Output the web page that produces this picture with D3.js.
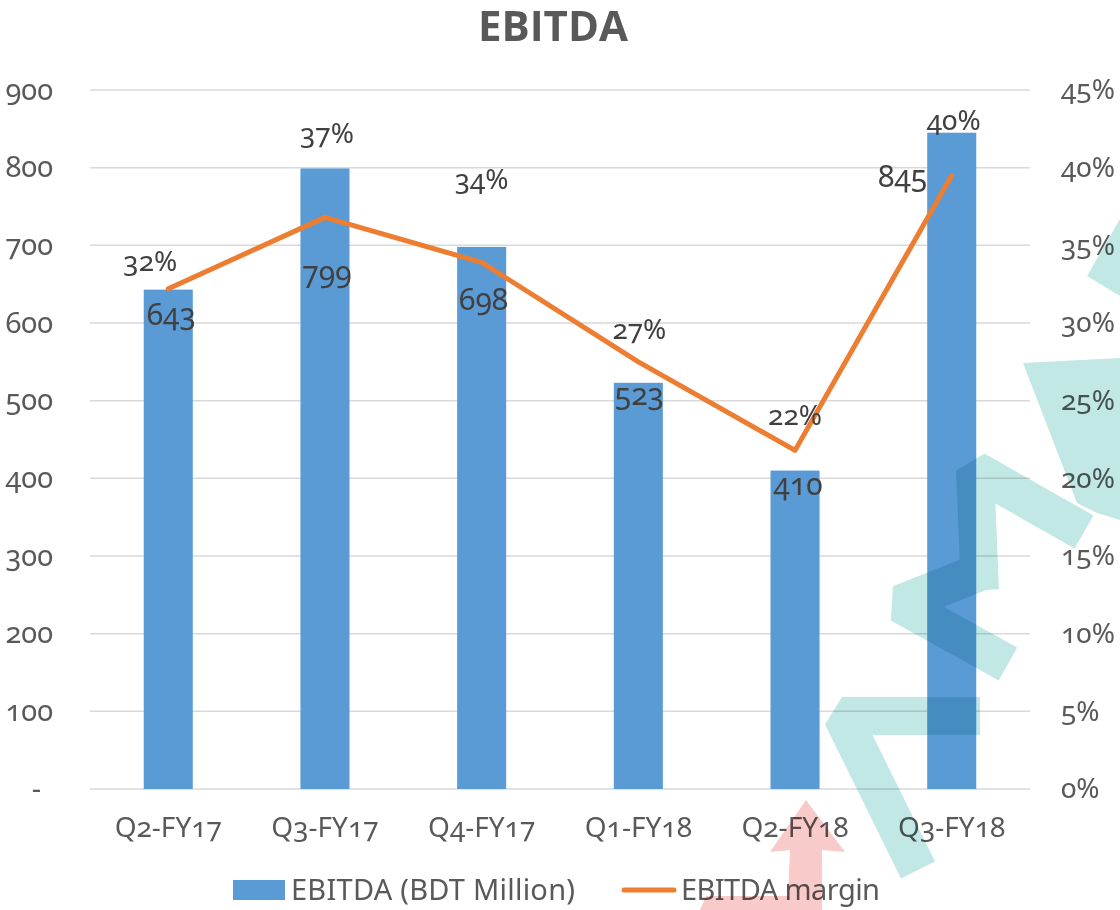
<!DOCTYPE html>
<html>
<head>
<meta charset="utf-8">
<script src="https://cdn.jsdelivr.net/npm/d3@7"></script>
<style>
  body { margin: 0; background: #fff; }
  text { font-family: "Noto Sans", sans-serif; font-variant-numeric: oldstyle-nums; }
</style>
</head>
<body>
<svg id="chart" width="1120" height="910"></svg>
<script>
// data
const quarters = ["Q2-FY17", "Q3-FY17", "Q4-FY17", "Q1-FY18", "Q2-FY18", "Q3-FY18"];
const ebitda = [643, 799, 698, 523, 410, 845];
const ebitdaMargin = [0.322, 0.368, 0.339, 0.275, 0.218, 0.395];
const marginLabels = ["32%", "37%", "34%", "27%", "22%", "40%"];
const leftTicks = [0, 100, 200, 300, 400, 500, 600, 700, 800, 900];
const rightTicks = [0, 0.05, 0.10, 0.15, 0.20, 0.25, 0.30, 0.35, 0.40, 0.45];
const seriesNames = ["EBITDA (BDT Million)", "EBITDA margin"];

// hand-placed label nudges, in px (layout only)
const barLabelDx = [3, 2, 2, 1, 3, -47];
const barLabelDy = [25, 104, 53, 12, 14, 44];
const pctLabelDx = [-18, 2, 0, 1, 0, 2];
const pctLabelDy = [-28, -84, -83, -33, -35, -55];

const blue = "#5B9BD5", orange = "#ED7D31";
const plot = { left: 90, right: 1030, top: 90, bottom: 789 };

const svg = d3.select("#chart");

const x = d3.scaleBand().domain(quarters).range([plot.left, plot.right]).paddingInner(0.687).paddingOuter(0.343);
const xc = d => x(d) + x.bandwidth() / 2;
const y = d3.scaleLinear().domain([0, 900]).range([plot.bottom, plot.top]);
const y2 = d3.scaleLinear().domain([0, 0.45]).range([plot.bottom, plot.top]);

// title
svg.append("text")
  .attr("x", 553).attr("y", 41)
  .attr("text-anchor", "middle")
  .style("font-family", "'Open Sans', sans-serif")
  .style("font-weight", "bold")
  .style("font-size", "42px")
  .attr("fill", "#595959")
  .text("EBITDA");

// gridlines
svg.append("g").selectAll("line")
  .data(leftTicks)
  .join("line")
  .attr("x1", plot.left).attr("x2", plot.right)
  .attr("y1", d => y(d)).attr("y2", d => y(d))
  .attr("stroke", "#D9D9D9").attr("stroke-width", 1.5);

// left axis
const left = svg.append("g")
  .attr("transform", "translate(" + 53 + ",0)")
  .call(d3.axisLeft(y).tickValues(leftTicks).tickSize(0).tickPadding(0)
    .tickFormat(d => d === 0 ? "-" : d));
left.select(".domain").remove();
left.selectAll("text")
  .attr("fill", "#595959").style("font-size", "29px")
  .attr("dx", d => d === 0 ? -12 : 0);

// right axis
const right = svg.append("g")
  .attr("transform", "translate(" + 1061 + ",0)")
  .call(d3.axisRight(y2).tickValues(rightTicks).tickSize(0).tickPadding(0)
    .tickFormat(d3.format(".0%")));
right.select(".domain").remove();
right.selectAll("text").attr("fill", "#595959").style("font-size", "28px");

// x axis
const bottom = svg.append("g")
  .attr("transform", "translate(0," + plot.bottom + ")")
  .call(d3.axisBottom(x).tickSize(0).tickPadding(28));
bottom.select(".domain").remove();
bottom.selectAll("text").attr("fill", "#595959").style("font-size", "28px");

// bars
svg.append("g").selectAll("rect")
  .data(quarters)
  .join("rect")
  .attr("x", d => x(d))
  .attr("y", (d, i) => y(ebitda[i]))
  .attr("width", x.bandwidth())
  .attr("height", (d, i) => y(0) - y(ebitda[i]))
  .attr("fill", blue);

// margin line
const line = d3.line()
  .x((d, i) => xc(quarters[i]))
  .y(d => y2(d));
svg.append("path")
  .datum(ebitdaMargin)
  .attr("fill", "none")
  .attr("stroke", orange)
  .attr("stroke-width", 5)
  .attr("stroke-linecap", "round")
  .attr("stroke-linejoin", "round")
  .attr("d", line);

// bar value labels
svg.append("g").selectAll("text")
  .data(quarters)
  .join("text")
  .attr("x", (d, i) => barLabelDx[i] < -20 ? x(d) : xc(d) + barLabelDx[i])
  .attr("y", (d, i) => y(ebitda[i]) + barLabelDy[i])
  .attr("dy", "0.35em")
  .attr("text-anchor", (d, i) => barLabelDx[i] < -20 ? "end" : "middle")
  .attr("fill", "#404040")
  .style("font-size", "30px")
  .text((d, i) => ebitda[i]);

// margin labels
svg.append("g").selectAll("text")
  .data(quarters)
  .join("text")
  .attr("x", (d, i) => xc(d) + pctLabelDx[i])
  .attr("y", (d, i) => y2(ebitdaMargin[i]) + pctLabelDy[i])
  .attr("dy", "0.35em")
  .attr("text-anchor", "middle")
  .attr("fill", "#404040")
  .style("font-size", "28px")
  .text((d, i) => marginLabels[i]);

// legend
const legend = svg.append("g");
legend.append("rect")
  .attr("x", 233).attr("y", 880).attr("width", 52).attr("height", 20)
  .attr("fill", blue);
legend.append("text")
  .attr("x", 291).attr("y", 890).attr("dy", "0.35em")
  .attr("fill", "#595959").style("font-size", "29px")
  .attr("textLength", 284)
  .text(seriesNames[0]);
legend.append("line")
  .attr("x1", 624).attr("x2", 674).attr("y1", 890).attr("y2", 890)
  .attr("stroke", orange).attr("stroke-width", 5).attr("stroke-linecap", "round");
legend.append("text")
  .attr("x", 681).attr("y", 890).attr("dy", "0.35em")
  .attr("fill", "#595959").style("font-size", "29px")
  .attr("textLength", 199)
  .text(seriesNames[1]);

// watermark overlay from the source screenshot
const wm = svg.append("g").style("mix-blend-mode", "multiply");
const teal = "#C2E8E6";
[
  [[918, 870], [842, 716], [980, 716]],
  [[1008, 664], [900, 604], [985, 570]],
  [[980, 590], [975, 470], [1084, 532]]
].forEach(pts => {
  wm.append("path")
    .attr("d", d3.line()(pts))
    .attr("fill", "none")
    .attr("stroke", teal)
    .attr("stroke-width", 38)
    .attr("stroke-linejoin", "bevel");
});
wm.append("path")
  .attr("d", d3.line()([[1023, 363], [1120, 358], [1120, 520], [1097, 513], [1077, 503]]) + "Z")
  .attr("fill", teal);
wm.append("path")
  .attr("d", d3.line()([[1087, 276], [1120, 219], [1120, 296]]) + "Z")
  .attr("fill", teal);
wm.append("path")
  .attr("d", d3.line()([[806, 800], [845, 852], [822, 850], [822, 910], [700, 910], [706, 896], [788, 896], [790, 850], [770, 852]]) + "Z")
  .attr("fill", "#F8CACA");
</script>
</body>
</html>
